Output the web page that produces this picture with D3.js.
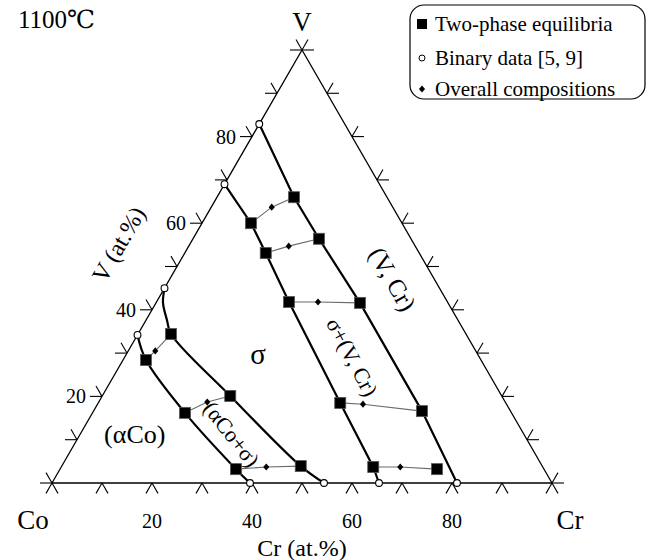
<!DOCTYPE html>
<html><head><meta charset="utf-8">
<script src="https://cdn.jsdelivr.net/npm/d3@7"></script>
<style>
body{margin:0;background:#fff}
text{font-family:"Liberation Serif","Times New Roman","DejaVu Serif",serif;fill:#000}
</style>
</head><body>
<svg id="chart" width="651" height="560"></svg>
<script>
// ---------------- data (Cr at.%, V at.%) ----------------
const vertexNames = ["Co", "Cr", "V"];
const axisTickValues = [0,10,20,30,40,50,60,70,80,90,100];
const leftTickLabels = [20,40,60,80];
const bottomTickLabels = [20,40,60,80];
const titleText = "1100\u2103";
const bottomAxisTitle = "Cr (at.%)";
const leftAxisTitle = "V (at.%)";
const legendLabels = ["Two-phase equilibria", "Binary data [5, 9]", "Overall compositions"];

const alphaCoBoundary = [[0,34.2],[4.6,28.4],[18.5,16.2],[35.2,3.2],[39.6,0]];
const sigmaCoSideBoundary = [[0,45],[1.4,41.6],[4.2,37.6],[6.6,34.4],[25.6,20.1],[47.8,3.9],[54.4,0]];
const sigmaCrSideBoundary = [[0,69],[9.8,60],[16.2,53.1],[26.5,41.8],[48.4,18.5],[62.4,3.7],[65.4,0]];
const vcrBoundary = [[0,82.9],[15.4,66],[25.2,56.4],[40.8,41.6],[65.7,16.6],[81,0]];

const tieFirstEnd = [[4.6,28.4],[18.5,16.2],[35.2,3.2],[9.8,60],[16.2,53.1],[26.5,41.8],[48.4,18.5],[62.4,3.7]];
const tieOverall  = [[5.4,30.5],[21.7,18.7],[41,3.7],[12.1,63.7],[20,54.7],[32.3,41.8],[53.1,18.2],[67.8,3.7]];
const tieSecondEnd= [[6.6,34.4],[25.6,20.1],[47.8,3.9],[15.4,66],[25.2,56.4],[40.8,41.6],[65.7,16.6],[75.4,3.2]];

const binaryData = [[0,34.2],[39.6,0],[0,45],[54.4,0],[0,69],[65.4,0],[0,82.9],[81,0]];

// ---------------- geometry ----------------
const X0 = 52, Y0 = 483, SIDE = 500, HGT = SIDE*Math.sqrt(3)/2;
const xs = d3.scaleLinear().domain([0,100]).range([X0, X0+SIDE]);
const ys = d3.scaleLinear().domain([0,100]).range([Y0, Y0-HGT]);
const P = ([cr, v]) => [xs(cr + v/2), ys(v)];

const svg = d3.select("#chart");
svg.append("rect").attr("width",651).attr("height",560).attr("fill","#fff");

// triangle
const tri = [[0,0],[100,0],[0,100]].map(P);
svg.append("path").attr("d", "M"+tri.map(p=>p.join(",")).join("L")+"Z")
  .attr("fill","none").attr("stroke","#000").attr("stroke-width",1.3);

// ticks
const L = 12, c60 = 0.5, s60 = Math.sqrt(3)/2;
const tickSegs = [];
axisTickValues.forEach(t => {
  let p = P([t,0]);
  tickSegs.push([p,[p[0]-c60*L,p[1]+s60*L]],[p,[p[0]+c60*L,p[1]+s60*L]]);
  p = P([0,t]);
  tickSegs.push([p,[p[0]-L,p[1]]],[p,[p[0]-c60*L,p[1]-s60*L]]);
  p = P([100-t,t]);
  tickSegs.push([p,[p[0]+L,p[1]]],[p,[p[0]+c60*L,p[1]-s60*L]]);
});
svg.append("g").selectAll("line").data(tickSegs).join("line")
  .attr("x1",d=>d[0][0]).attr("y1",d=>d[0][1]).attr("x2",d=>d[1][0]).attr("y2",d=>d[1][1])
  .attr("stroke","#000").attr("stroke-width",1.1);

// tick labels
svg.append("g").selectAll("text").data(leftTickLabels).join("text")
  .attr("x",d=>P([0,d])[0]-16).attr("y",d=>P([0,d])[1]).attr("dy","0.35em")
  .attr("text-anchor","end").attr("font-size",20).text(d=>d);
svg.append("g").selectAll("text").data(bottomTickLabels).join("text")
  .attr("x",d=>P([d,0])[0]).attr("y",d=>P([d,0])[1]+38).attr("dy","0.35em")
  .attr("text-anchor","middle").attr("font-size",20).text(d=>d);

// vertex labels
const vOff = [[-19,37],[18,37],[0,-28]];
[[0,0],[100,0],[0,100]].forEach((c,i)=>{
  const p = P(c);
  svg.append("text").attr("x",p[0]+vOff[i][0]).attr("y",p[1]+vOff[i][1]).attr("dy","0.35em")
    .attr("text-anchor","middle").attr("font-size",27).text(vertexNames[i]);
});

// axis titles
svg.append("text").attr("x", xs(50)).attr("y", Y0+65).attr("dy","0.35em")
  .attr("text-anchor","middle").attr("font-size",24).text(bottomAxisTitle);
{
  const p = P([0,48]);
  const d = 62;
  const cx = p[0] - s60*d, cy = p[1] - c60*d;
  svg.append("text").attr("transform",`translate(${cx},${cy}) rotate(-60)`).attr("dy","0.35em")
    .attr("text-anchor","middle").attr("font-size",24).text(leftAxisTitle);
}
svg.append("text").attr("x",18).attr("y",28).attr("font-size",25).text(titleText);

// phase boundaries
const lineCurve = d3.line().x(d=>P(d)[0]).y(d=>P(d)[1]).curve(d3.curveCatmullRom.alpha(0.5));
const lineStraight = d3.line().x(d=>P(d)[0]).y(d=>P(d)[1]);
[[alphaCoBoundary,lineCurve],[sigmaCoSideBoundary,lineCurve],[sigmaCrSideBoundary,lineStraight],[vcrBoundary,lineStraight]]
  .forEach(([pts,gen])=>{
    svg.append("path").attr("d",gen(pts)).attr("fill","none").attr("stroke","#000").attr("stroke-width",2.2);
  });

// tie lines
const ties = tieFirstEnd.map((a,i)=>[a, tieOverall[i], tieSecondEnd[i]]);
svg.append("g").selectAll("path").data(ties).join("path")
  .attr("d", d=>lineStraight(d)).attr("fill","none").attr("stroke","#6a6a6a").attr("stroke-width",1.1);

// region labels
function region(txt, c, rot, size){
  const p = P(c);
  svg.append("text").attr("transform",`translate(${p[0]},${p[1]}) rotate(${rot})`).attr("dy","0.35em")
    .attr("text-anchor","middle").attr("font-size",size).text(txt);
}
region("\u03c3",[26.3,29.8],0,29);
region("(\u03b1Co)",[10.9,11.3],0,26);
region("(\u03b1Co+\u03c3)",[30.3,11.3],52,22);
region("\u03c3+(V, Cr)",[45.5,29.1],62,22);
region("(V, Cr)",[44.6,47.1],60,25);

// markers
const sq = 11;
function drawSquares(g, pts){
  g.selectAll("rect").data(pts).join("rect")
    .attr("x",d=>P(d)[0]-sq/2).attr("y",d=>P(d)[1]-sq/2).attr("width",sq).attr("height",sq)
    .attr("fill","#000").attr("stroke","#555").attr("stroke-width",0.8);
}
drawSquares(svg.append("g"), tieFirstEnd);
drawSquares(svg.append("g"), tieSecondEnd);
const diamond = (x,y,r)=>`M${x},${y-r}L${x+r*0.85},${y}L${x},${y+r}L${x-r*0.85},${y}Z`;
svg.append("g").selectAll("path").data(tieOverall).join("path")
  .attr("d",d=>{const p=P(d);return diamond(p[0],p[1],3.6);}).attr("fill","#000");
svg.append("g").selectAll("circle").data(binaryData).join("circle")
  .attr("cx",d=>P(d)[0]).attr("cy",d=>P(d)[1]).attr("r",3.4)
  .attr("fill","#fff").attr("stroke","#000").attr("stroke-width",1.1);

// legend
const lg = svg.append("g");
lg.append("rect").attr("x",410).attr("y",5).attr("width",235).attr("height",94).attr("rx",14)
  .attr("fill","#fff").attr("stroke","#000").attr("stroke-width",1.2);
const rowsY = [24,58,89];
lg.append("rect").attr("x",422-5).attr("y",rowsY[0]-5).attr("width",10).attr("height",10).attr("fill","#000");
lg.append("circle").attr("cx",422).attr("cy",rowsY[1]).attr("r",3).attr("fill","#fff").attr("stroke","#000").attr("stroke-width",1);
lg.append("path").attr("d",diamond(422,rowsY[2],3.6)).attr("fill","#000");
lg.selectAll("text").data(legendLabels).join("text")
  .attr("x",435).attr("y",(d,i)=>rowsY[i]).attr("dy","0.35em").attr("font-size",21).text(d=>d);
</script>
</body></html>
